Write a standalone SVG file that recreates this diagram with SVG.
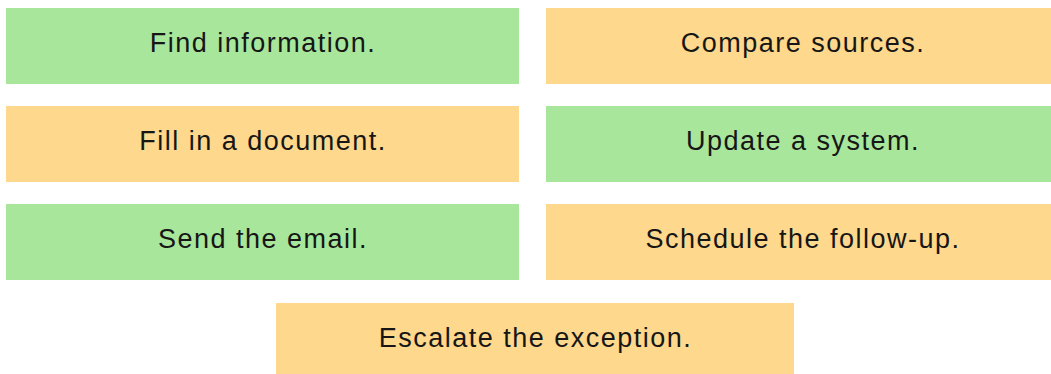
<svg xmlns="http://www.w3.org/2000/svg" width="1051" height="374" viewBox="0 0 1051 374">
  <style>
    .box rect { stroke: none; }
    .green rect { fill: #a8e69c; }
    .orange rect { fill: #fed88c; }
    .box text { font-family: "Liberation Sans", Arial, sans-serif; font-size: 27px; fill: #161616; text-anchor: middle; letter-spacing: 1.5px; }
  </style>
  <rect width="1051" height="374" fill="#ffffff"/>
  <g id="connectors"/>
  <g id="find-information" class="box green">
    <rect x="6" y="8" width="513" height="76"/>
    <text x="263" y="52">Find information.</text>
  </g>
  <g id="compare-sources" class="box orange">
    <rect x="546" y="8" width="513" height="76"/>
    <text x="803" y="52">Compare sources.</text>
  </g>
  <g id="fill-document" class="box orange">
    <rect x="6" y="106" width="513" height="76"/>
    <text x="263" y="150">Fill in a document.</text>
  </g>
  <g id="update-system" class="box green">
    <rect x="546" y="106" width="513" height="76"/>
    <text x="803" y="150">Update a system.</text>
  </g>
  <g id="send-email" class="box green">
    <rect x="6" y="204" width="513" height="76"/>
    <text x="263" y="248">Send the email.</text>
  </g>
  <g id="schedule-follow-up" class="box orange">
    <rect x="546" y="204" width="513" height="76"/>
    <text x="803" y="248">Schedule the follow-up.</text>
  </g>
  <g id="escalate-exception" class="box orange">
    <rect x="276" y="303" width="518" height="76"/>
    <text x="535.5" y="347">Escalate the exception.</text>
  </g>
</svg>
